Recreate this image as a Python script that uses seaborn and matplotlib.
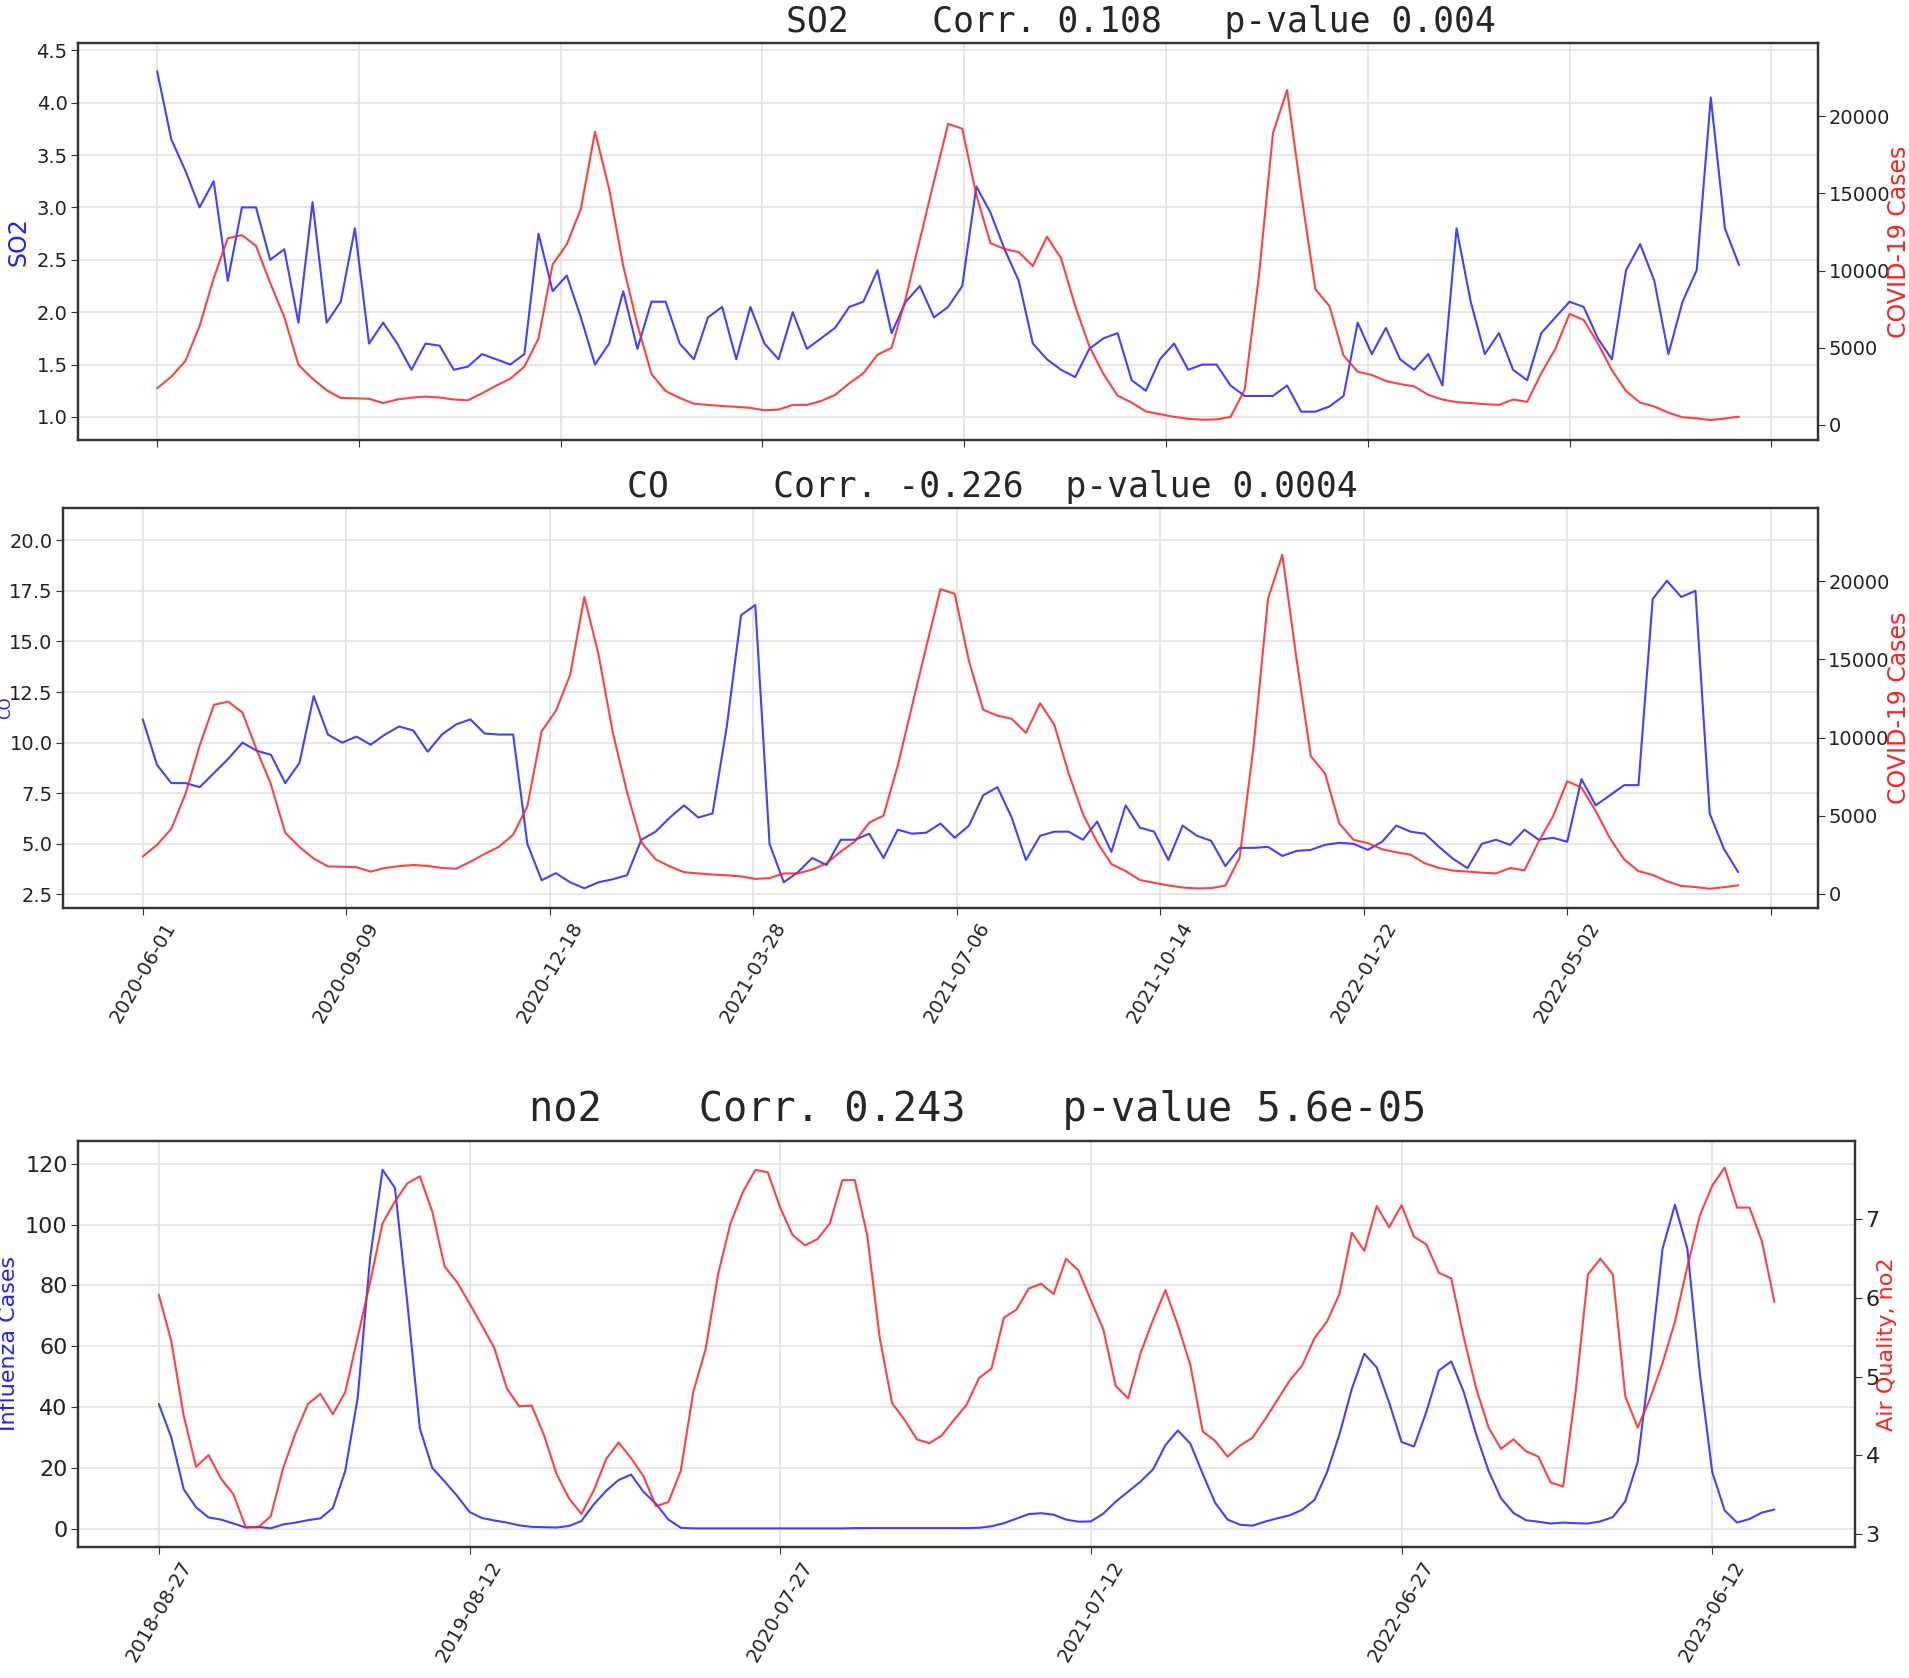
import matplotlib
matplotlib.use("Agg")
import matplotlib.pyplot as plt
import pandas as pd
import seaborn as sns

# weekly samples, 2020-06-01 .. 2022-07-25
covid_dates = pd.date_range("2020-06-01", periods=113, freq="7D")

so2 = [4.3, 3.65, 3.35, 3.0, 3.25, 2.3, 3.0, 3.0, 2.5, 2.6,
       1.9, 3.05, 1.9, 2.1, 2.8, 1.7, 1.9, 1.7, 1.45, 1.7,
       1.68, 1.45, 1.48, 1.6, 1.55, 1.5, 1.6, 2.75, 2.2, 2.35,
       1.95, 1.5, 1.7, 2.2, 1.65, 2.1, 2.1, 1.7, 1.55, 1.95,
       2.05, 1.55, 2.05, 1.7, 1.55, 2.0, 1.65, 1.75, 1.85, 2.05,
       2.1, 2.4, 1.8, 2.1, 2.25, 1.95, 2.05, 2.25, 3.2, 2.95,
       2.6, 2.3, 1.7, 1.55, 1.45, 1.38, 1.65, 1.75, 1.8, 1.35,
       1.25, 1.55, 1.7, 1.45, 1.5, 1.5, 1.3, 1.2, 1.2, 1.2,
       1.3, 1.05, 1.05, 1.1, 1.2, 1.9, 1.6, 1.85, 1.55, 1.45,
       1.6, 1.3, 2.8, 2.1, 1.6, 1.8, 1.45, 1.35, 1.8, 1.95,
       2.1, 2.05, 1.75, 1.55, 2.4, 2.65, 2.3, 1.6, 2.1, 2.4,
       4.05, 2.8, 2.45]

co = [11.15, 8.9, 8.0, 8.0, 7.8, 8.5, 9.2, 10.0, 9.6, 9.4,
      8.0, 9.0, 12.3, 10.4, 10.0, 10.3, 9.9, 10.4, 10.8, 10.6,
      9.55, 10.4, 10.9, 11.15, 10.45, 10.4, 10.4, 5.0, 3.2, 3.55,
      3.1, 2.8, 3.1, 3.25, 3.45, 5.2, 5.6, 6.3, 6.9, 6.3,
      6.5, 10.8, 16.3, 16.8, 5.0, 3.1, 3.6, 4.3, 3.95, 5.2,
      5.2, 5.5, 4.3, 5.7, 5.5, 5.55, 6.0, 5.3, 5.9, 7.4,
      7.8, 6.3, 4.2, 5.4, 5.6, 5.6, 5.2, 6.1, 4.6, 6.9,
      5.8, 5.6, 4.2, 5.9, 5.4, 5.15, 3.9, 4.8, 4.8, 4.85,
      4.4, 4.65, 4.7, 4.95, 5.05, 5.0, 4.7, 5.1, 5.9, 5.6,
      5.5, 4.85, 4.25, 3.8, 5.0, 5.2, 4.95, 5.7, 5.2, 5.3,
      5.1, 8.2, 6.9, 7.4, 7.9, 7.9, 17.1, 18.0, 17.2, 17.5,
      6.5, 4.75, 3.6]

covid_cases = [2380, 3130, 4150, 6400, 9500, 12100, 12300, 11600, 9200, 7000,
               3900, 3000, 2250, 1750, 1730, 1700, 1420, 1650, 1770, 1840,
               1780, 1650, 1600, 2050, 2550, 3000, 3780, 5600, 10400, 11700,
               14000, 19000, 15300, 10300, 6500, 3300, 2200, 1750, 1380, 1300,
               1230, 1180, 1110, 950, 1000, 1300, 1300, 1550, 1950, 2700,
               3350, 4550, 5000, 8200, 12000, 15800, 19500, 19200, 14900, 11780,
               11400, 11200, 10300, 12200, 10800, 7700, 5100, 3300, 1900, 1450,
               880, 700, 530, 400, 340, 360, 520, 2300, 9600, 18900,
               21700, 15000, 8800, 7700, 4500, 3450, 3240, 2850, 2650, 2500,
               1950, 1650, 1480, 1420, 1350, 1300, 1650, 1500, 3350, 4950,
               7200, 6800, 5300, 3550, 2200, 1450, 1200, 800, 500, 430,
               320, 420, 540]

covid_ticks = pd.date_range("2020-06-01", periods=9, freq="100D")
covid_tick_labels = [d.strftime("%Y-%m-%d") for d in covid_ticks[:8]] + [""]

# two-weekly samples, 2018-08-27 .. 2023-08-21
flu_dates = pd.date_range("2018-08-27", periods=131, freq="14D")

influenza = [41, 30, 13, 7, 3.7, 3.0, 1.7, 0.4, 0.6, 0.1,
             1.4, 2.0, 2.8, 3.4, 6.8, 19, 43, 89, 118, 112,
             74, 33, 20, 15.5, 10.8, 5.5, 3.5, 2.7, 2.0, 1.1,
             0.6, 0.5, 0.4, 0.9, 2.5, 8.0, 12.5, 16, 17.8, 12.1,
             8.2, 3.0, 0.3, 0.1, 0.1, 0.1, 0.1, 0.1, 0.1, 0.1,
             0.1, 0.1, 0.1, 0.1, 0.1, 0.1, 0.2, 0.2, 0.2, 0.2,
             0.2, 0.2, 0.2, 0.2, 0.2, 0.2, 0.3, 0.8, 1.8, 3.3,
             4.8, 5.1, 4.6, 3.0, 2.3, 2.4, 4.95, 8.9, 12.2, 15.5,
             19.5, 27.5, 32.3, 28, 18, 8.5, 3.0, 1.3, 1.0, 2.3,
             3.4, 4.4, 6.2, 9.5, 18.5, 31, 46, 57.5, 53, 41.5,
             28.5, 27, 38.5, 52, 55, 45, 31, 19, 10, 5.2,
             2.8, 2.3, 1.7, 2.0, 1.8, 1.7, 2.4, 3.8, 9.0, 22,
             55, 92, 106.5, 92, 51, 18.6, 6.0, 2.0, 3.2, 5.3,
             6.3]

no2 = [6.04, 5.45, 4.5, 3.85, 4.0, 3.7, 3.5, 3.08, 3.08, 3.22,
       3.83, 4.28, 4.65, 4.78, 4.52, 4.8, 5.5, 6.2, 6.95, 7.23,
       7.46, 7.55, 7.1, 6.4, 6.2, 5.93, 5.65, 5.36, 4.85, 4.62,
       4.63, 4.25, 3.76, 3.45, 3.25, 3.55, 3.95, 4.16, 3.96, 3.73,
       3.35, 3.4, 3.8, 4.8, 5.35, 6.3, 6.95, 7.35, 7.63, 7.6,
       7.15, 6.8, 6.67, 6.75, 6.95, 7.5, 7.5, 6.8, 5.5, 4.66,
       4.45, 4.2, 4.15, 4.25, 4.45, 4.64, 4.98, 5.1, 5.75, 5.85,
       6.12, 6.18, 6.05, 6.5, 6.35, 5.97, 5.6, 4.88, 4.72, 5.3,
       5.72, 6.1, 5.65, 5.15, 4.3, 4.18, 3.98, 4.12, 4.22, 4.45,
       4.7, 4.95, 5.14, 5.49, 5.7, 6.05, 6.83, 6.6, 7.17, 6.9,
       7.18, 6.78, 6.68, 6.32, 6.25, 5.5, 4.85, 4.35, 4.08, 4.2,
       4.05, 3.98, 3.65, 3.6, 4.8, 6.3, 6.5, 6.3, 4.75, 4.35,
       4.72, 5.17, 5.7, 6.4, 7.05, 7.43, 7.66, 7.15, 7.15, 6.72,
       5.95]

flu_ticks = pd.date_range("2018-08-27", periods=6, freq="350D")
flu_tick_labels = [d.strftime("%Y-%m-%d") for d in flu_ticks]

sns.set_style("whitegrid", {
    "axes.edgecolor": "#333333",
    "grid.color": "#e2e2e2",
    "xtick.bottom": True,
    "ytick.left": True,
})
plt.rcParams["font.family"] = ["DejaVu Sans"]
plt.rcParams["axes.linewidth"] = 1.6
plt.rcParams["grid.linewidth"] = 1.2

BLUE = "#2020ff"
RED = "#ff2020"


def draw_pair(ax, dates, left, right, left_label, right_label, tick_size, label_size):
    sns.lineplot(x=dates, y=left, ax=ax, color=BLUE, linewidth=1.5, alpha=0.85)
    axr = ax.twinx()
    sns.lineplot(x=dates, y=right, ax=axr, color=RED, linewidth=1.5, alpha=0.85)
    axr.grid(False)
    ax.set_xlabel("")
    axr.set_xlabel("")
    ax.set_ylabel(left_label, color=BLUE, fontsize=label_size)
    axr.set_ylabel(right_label, color=RED, fontsize=label_size, labelpad=-2)
    for a in (ax, axr):
        a.tick_params(labelsize=tick_size, length=5, pad=2.5,
                      color="#333333", labelcolor="#222222")
    pad = (dates[-1] - dates[0]) * 0.05
    ax.set_xlim(dates[0] - pad, dates[-1] + pad)
    return axr


fig = plt.figure(figsize=(19.09, 16.78), dpi=100)
ax1 = fig.add_axes([0.0409, 0.7378, 0.9115, 0.2366])
ax2 = fig.add_axes([0.0330, 0.4589, 0.9193, 0.2384])
ax3 = fig.add_axes([0.0409, 0.0781, 0.9309, 0.2420])

# SO2 vs COVID-19
r1 = draw_pair(ax1, covid_dates, so2, covid_cases, "SO2", "COVID-19 Cases", 14, 17)
ax1.set_ylim(0.78, 4.57)
ax1.set_yticks([1.0, 1.5, 2.0, 2.5, 3.0, 3.5, 4.0, 4.5])
r1.set_ylim(-970, 24750)
r1.set_yticks([0, 5000, 10000, 15000, 20000])
ax1.set_xticks(covid_ticks)
ax1.tick_params(axis="x", labelbottom=False)

# CO vs COVID-19
r2 = draw_pair(ax2, covid_dates, co, covid_cases, "CO", "COVID-19 Cases", 14, 17)
ax2.set_ylim(1.83, 21.6)
ax2.set_yticks([2.5, 5.0, 7.5, 10.0, 12.5, 15.0, 17.5, 20.0])
# the left label squeezes into the narrow strip left of the tick labels
ax2.set_ylabel("CO", color=BLUE, fontsize=11)
ax2.yaxis.set_label_coords(-0.0282, 0.5)
r2.set_ylim(-910, 24700)
r2.set_yticks([0, 5000, 10000, 15000, 20000])
ax2.set_xticks(covid_ticks)
ax2.set_xticklabels(covid_tick_labels, rotation=60, fontsize=14)

# Influenza vs no2
r3 = draw_pair(ax3, flu_dates, influenza, no2, "Influenza Cases", "Air Quality, no2", 16, 16)
ax3.set_ylim(-6, 127.5)
ax3.set_yticks([0, 20, 40, 60, 80, 100, 120])
r3.set_ylim(2.83, 8.0)
r3.set_yticks([3, 4, 5, 6, 7])
ax3.set_xticks(flu_ticks)
ax3.set_xticklabels(flu_tick_labels, rotation=60, fontsize=14)

mono = "DejaVu Sans Mono"
fig.text(0.5977, 0.9869, "SO2    Corr. 0.108   p-value 0.004",
         family=mono, fontsize=25, ha="center", va="center")
fig.text(0.5196, 0.7098, "CO     Corr. -0.226  p-value 0.0004",
         family=mono, fontsize=25, ha="center", va="center")
fig.text(0.5123, 0.3385, "no2    Corr. 0.243    p-value 5.6e-05",
         family=mono, fontsize=29, ha="center", va="center")

fig.savefig("out.png", dpi=100)
